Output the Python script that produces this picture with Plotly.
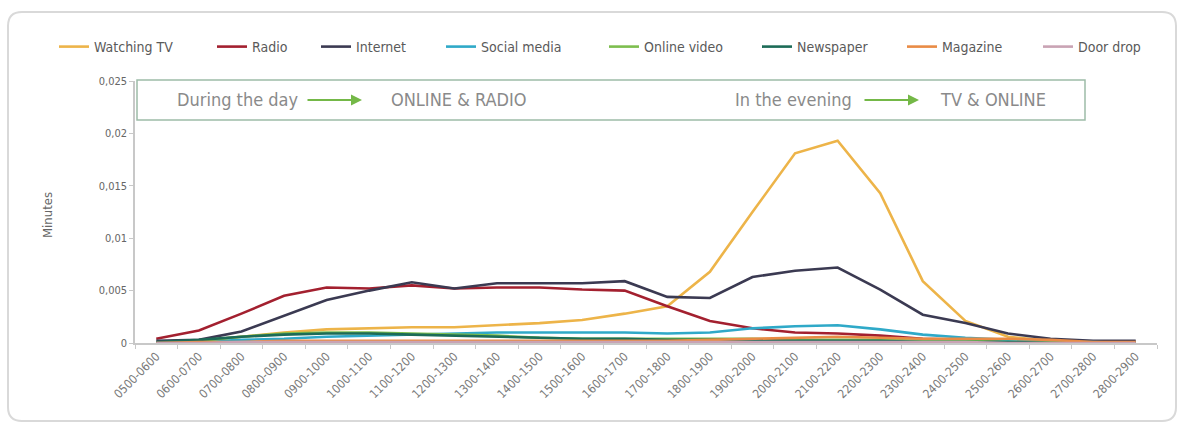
import plotly.graph_objects as go

categories = ["0500-0600", "0600-0700", "0700-0800", "0800-0900", "0900-1000", "1000-1100",
              "1100-1200", "1200-1300", "1300-1400", "1400-1500", "1500-1600", "1600-1700",
              "1700-1800", "1800-1900", "1900-2000", "2000-2100", "2100-2200", "2200-2300",
              "2300-2400", "2400-2500", "2500-2600", "2600-2700", "2700-2800", "2800-2900"]

watching_tv = [0.0000, 0.0002, 0.0006, 0.0010, 0.0013, 0.0014, 0.0015, 0.0015, 0.0017, 0.0019, 0.0022, 0.0028,
               0.0035, 0.0068, 0.0125, 0.0181, 0.0193, 0.0143, 0.0059, 0.0021, 0.0006, 0.0002, 0.0001, 0.0001]
radio = [0.0004, 0.0012, 0.0028, 0.0045, 0.0053, 0.0052, 0.0055, 0.0052, 0.0053, 0.0053, 0.0051, 0.0050,
         0.0035, 0.0021, 0.0014, 0.0010, 0.0009, 0.0007, 0.0004, 0.0003, 0.0002, 0.0001, 0.0001, 0.0001]
internet = [0.0002, 0.0003, 0.0011, 0.0026, 0.0041, 0.0050, 0.0058, 0.0052, 0.0057, 0.0057, 0.0057, 0.0059,
            0.0044, 0.0043, 0.0063, 0.0069, 0.0072, 0.0051, 0.0027, 0.0019, 0.0009, 0.0004, 0.0002, 0.0002]
social_media = [0.0000, 0.0001, 0.0003, 0.0004, 0.0006, 0.0007, 0.0008, 0.0009, 0.0010, 0.0010, 0.0010, 0.0010,
                0.0009, 0.0010, 0.0014, 0.0016, 0.0017, 0.0013, 0.0008, 0.0005, 0.0003, 0.0001, 0.0001, 0.0000]
online_video = [0.0000, 0.0002, 0.0006, 0.0009, 0.0010, 0.0010, 0.0009, 0.0008, 0.0007, 0.0005, 0.0004, 0.0004,
                0.0004, 0.0004, 0.0004, 0.0003, 0.0003, 0.0003, 0.0002, 0.0002, 0.0001, 0.0001, 0.0000, 0.0000]
newspaper = [0.0001, 0.0003, 0.0006, 0.0008, 0.0009, 0.0009, 0.0008, 0.0007, 0.0006, 0.0005, 0.0004, 0.0004,
             0.0003, 0.0003, 0.0003, 0.0002, 0.0002, 0.0002, 0.0001, 0.0001, 0.0001, 0.0000, 0.0000, 0.0000]
magazine = [0.0000, 0.0001, 0.0001, 0.0002, 0.0002, 0.0002, 0.0002, 0.0002, 0.0002, 0.0002, 0.0002, 0.0002,
            0.0002, 0.0003, 0.0004, 0.0005, 0.0006, 0.0005, 0.0004, 0.0004, 0.0004, 0.0003, 0.0001, 0.0001]
door_drop = [0.0000, 0.0000, 0.0001, 0.0001, 0.0001, 0.0001, 0.0001, 0.0001, 0.0001, 0.0001, 0.0001, 0.0001,
             0.0001, 0.0001, 0.0001, 0.0001, 0.0001, 0.0001, 0.0001, 0.0001, 0.0000, 0.0000, 0.0000, 0.0000]

series_names = ["Watching TV", "Radio", "Internet", "Social media", "Online video", "Newspaper", "Magazine", "Door drop"]
series_values = [watching_tv, radio, internet, social_media, online_video, newspaper, magazine, door_drop]
series_colors = ["#EDB449", "#A3202F", "#3B3A52", "#2FA9C8", "#7DBE4E", "#1C6B57", "#E98B45", "#C9A3B4"]

y_tickvals = [0, 0.005, 0.01, 0.015, 0.02, 0.025]
y_ticktext = ["0", "0,005", "0,01", "0,015", "0,02", "0,025"]

# layout geometry (pixels)
W, H = 1182, 425
L, R, T, B = 135, 25, 81, 82
PW, PH = W - L - R, H - T - B

def px(x):
    return (x - L) / PW

def py(y):
    return (H - B - y) / PH

FONT = "Liberation Sans Narrow, DejaVu Sans Condensed, Arial Narrow, sans-serif"
legend_starts = [59, 217, 321, 446, 609, 762, 907, 1043]

fig = go.Figure()
legend_layout = {}
for i, (name, vals, col) in enumerate(zip(series_names, series_values, series_colors)):
    key = "legend" if i == 0 else f"legend{i + 1}"
    fig.add_trace(go.Scatter(x=categories, y=vals, name=name, mode="lines",
                             line=dict(color=col, width=2.6), legend=key, showlegend=True))
    legend_layout[key] = dict(x=px(legend_starts[i] - 5), y=py(47), xanchor="left", yanchor="middle",
                              orientation="h", bgcolor="rgba(0,0,0,0)", itemwidth=30, visible=True,
                              font=dict(family=FONT, size=14, color="#5a5a5a"))

shapes = []
# outer rounded frame
x0, x1, y0, y1 = px(8), px(1176), py(421), py(12)
rx, ry = 14 / PW, 14 / PH
path = (f"M {x0+rx},{y1} L {x1-rx},{y1} Q {x1},{y1} {x1},{y1-ry} L {x1},{y0+ry} "
        f"Q {x1},{y0} {x1-rx},{y0} L {x0+rx},{y0} Q {x0},{y0} {x0},{y0+ry} "
        f"L {x0},{y1-ry} Q {x0},{y1} {x0+rx},{y1} Z")
shapes.append(dict(type="path", path=path, xref="paper", yref="paper",
                   line=dict(color="#D9D9D9", width=2), layer="below"))
# annotation box
shapes.append(dict(type="rect", xref="paper", yref="paper", x0=px(137), x1=px(1085), y0=py(120), y1=py(80),
                   line=dict(color="#9DBCA8", width=1.5)))

ann_font = dict(family=FONT, size=18, color="#8a8a8a")
annotations = [
    dict(text="Minutes", x=px(47), y=py(215), xref="paper", yref="paper", showarrow=False, textangle=-90,
         xanchor="center", yanchor="middle", font=dict(family=FONT, size=13, color="#666666")),
]
for label, cx in [("During the day", 238), ("ONLINE &amp; RADIO", 458), ("In the evening", 793), ("TV &amp; ONLINE", 993)]:
    annotations.append(dict(text=label, x=px(cx), y=py(100), xref="paper", yref="paper", showarrow=False,
                            xanchor="center", yanchor="middle", font=ann_font))
for head, tail in [(362, 306), (919, 863)]:
    annotations.append(dict(text="", x=px(head), y=py(100), xref="paper", yref="paper", showarrow=True,
                            ax=tail - head, ay=0, arrowhead=2, arrowsize=1.1, arrowwidth=2,
                            arrowcolor="#74B847"))

fig.update_layout(
    width=W, height=H,
    margin=dict(l=L, r=R, t=T, b=B, autoexpand=False),
    paper_bgcolor="white", plot_bgcolor="white",
    separators=",.",
    showlegend=True,
    shapes=shapes, annotations=annotations,
    **legend_layout,
)
fig.update_xaxes(type="category", range=[-0.5, len(categories) - 0.5], showline=True, linecolor="#C8C8C8",
                 linewidth=1.5, ticks="outside", tickson="boundaries", ticklen=4, tickcolor="#C8C8C8",
                 tickangle=-45, showgrid=False, zeroline=False,
                 tickfont=dict(family=FONT, size=12, color="#7a7a7a"))
fig.update_yaxes(range=[0, 0.025], tickvals=y_tickvals, ticktext=y_ticktext, showline=True, linecolor="#C8C8C8",
                 linewidth=1.5, ticks="outside", ticklen=4, tickcolor="#C8C8C8", showgrid=False, zeroline=False,
                 tickfont=dict(family=FONT, size=11, color="#666666"))

fig.write_html("out.html", config={"displayModeBar": False},
               post_script="document.body.style.margin='0';document.body.style.overflow='hidden';")
